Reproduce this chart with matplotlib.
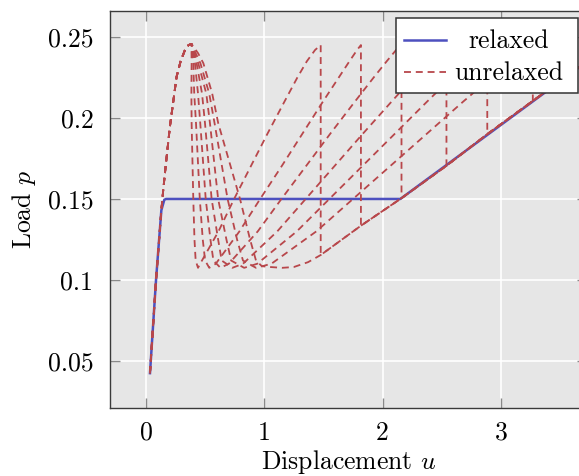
import matplotlib.pyplot as plt
from matplotlib.lines import Line2D

plt.rcParams["font.family"] = "serif"
plt.rcParams["font.serif"] = ["cmr10"]
plt.rcParams["mathtext.fontset"] = "cm"
plt.rcParams["axes.formatter.use_mathtext"] = True
plt.rcParams["lines.scale_dashes"] = False

# ---- data ----
# relaxed (Maxwell) path
RELAX_U = [0.034, 0.085, 0.13, 0.155, 0.17, 2.15, 3.75]
RELAX_P = [0.0425, 0.100, 0.143, 0.1495, 0.150, 0.150, 0.236]

# common loading branch up to the peak
RISE_U = [0.034, 0.085, 0.13, 0.146, 0.169, 0.203, 0.225, 0.259, 0.293, 0.33, 0.36, 0.385]
RISE_P = [0.0425, 0.100, 0.143, 0.1556, 0.172, 0.195, 0.207, 0.2255, 0.235, 0.242, 0.245, 0.2457]

# descending branches after the peak (one list per unrelaxed curve)
DESC_P = [0.240, 0.2338, 0.215, 0.1967, 0.150, 0.125, 0.112, 0.1075]
DESC_U = [
    [0.385, 0.386, 0.384, 0.386, 0.400, 0.410, 0.420, 0.440],
    [0.390, 0.400, 0.408, 0.423, 0.455, 0.480, 0.500, 0.535],
    [0.400, 0.414, 0.440, 0.459, 0.505, 0.545, 0.570, 0.630],
    [0.405, 0.428, 0.474, 0.499, 0.555, 0.610, 0.640, 0.730],
    [0.410, 0.442, 0.510, 0.541, 0.610, 0.680, 0.720, 0.830],
    [0.420, 0.460, 0.535, 0.580, 0.690, 0.770, 0.820, 0.930],
]

# re-loading branches up to the second snap (last point = snap position)
DIAG_P = [0.110, 0.130, 0.150, 0.170, 0.190, 0.210, 0.225, 0.235, 0.242, 0.245]
DIAG_U = [
    [0.458, 0.613, 0.745, 0.885, 1.025, 1.170, 1.280, 1.360, 1.430, 1.477],
    [0.590, 0.790, 0.965, 1.145, 1.320, 1.495, 1.630, 1.720, 1.785, 1.817],
    [0.700, 0.945, 1.145, 1.350, 1.555, 1.765, 1.925, 2.035, 2.115, 2.160],
    [0.820, 1.110, 1.350, 1.590, 1.830, 2.075, 2.260, 2.390, 2.490, 2.540],
    [0.940, 1.275, 1.550, 1.825, 2.100, 2.375, 2.585, 2.730, 2.835, 2.885],
    [1.060, 1.440, 1.750, 2.060, 2.370, 2.680, 2.920, 3.080, 3.200, 3.270],
]

# single-element softening curve
SINGLE_DESC_U = [0.440, 0.485, 0.560, 0.611, 0.795, 0.880, 0.930, 0.980]
SINGLE_DESC_P = [0.240, 0.2338, 0.215, 0.1967, 0.150, 0.125, 0.112, 0.1085]

# fully transformed branch
B_U = [1.05, 1.15, 1.25, 1.37, 1.477, 1.817, 2.15, 2.16, 2.54, 2.885, 3.27, 3.75]
B_P = [0.108, 0.1075, 0.108, 0.111, 0.1154, 0.1335, 0.150, 0.1505, 0.1705, 0.190, 0.2105, 0.236]

XTICKS = [0, 1, 2, 3]
XTICK_LABELS = ["0", "1", "2", "3"]
YTICKS = [0.05, 0.10, 0.15, 0.20, 0.25]
YTICK_LABELS = ["0.05", "0.1", "0.15", "0.2", "0.25"]

BLUE = "#4d50bf"
RED = "#b8474b"
W, H = 579, 476
FS = 18.5

fig = plt.figure(figsize=(W / 100, H / 100), dpi=100)
ax = fig.add_axes([110 / W, 1 - 408.3 / H, 477 / W, 397.6 / H])
ax.set_facecolor("#e6e6e6")
ax.grid(True, color="white", linewidth=1.2)
ax.set_axisbelow(True)

ax.plot(RELAX_U, RELAX_P, color=BLUE, linewidth=1.8)

dash = (0, (5, 3.5))
for du, gu in zip(DESC_U, DIAG_U):
    top = gu[-1]
    tail = [(bu, bp) for bu, bp in zip(B_U, B_P) if bu >= top]
    u = RISE_U + du + gu + [t[0] for t in tail]
    p = RISE_P + DESC_P + DIAG_P + [t[1] for t in tail]
    ax.plot(u, p, color=RED, linewidth=1.3, linestyle=dash)

ax.plot(RISE_U + SINGLE_DESC_U + B_U, RISE_P + SINGLE_DESC_P + B_P,
        color=RED, linewidth=1.3, linestyle=dash)

ax.set_xlim(-0.304, 3.728)
ax.set_ylim(0.0208, 0.2662)
ax.set_xticks(XTICKS)
ax.set_xticklabels(XTICK_LABELS)
ax.set_yticks(YTICKS)
ax.set_yticklabels(YTICK_LABELS)
ax.tick_params(direction="in", length=7, width=1, color="#8a8a8a",
               top=True, right=True, labelsize=FS)
ax.tick_params(axis="x", pad=9)
ax.tick_params(axis="y", pad=12)
for s in ax.spines.values():
    s.set_color("#3a3a3a")
    s.set_linewidth(1.0)

ax.set_xlabel("Displacement $u$", fontsize=FS)
ax.set_ylabel("Load $p$", fontsize=FS)
ax.xaxis.set_label_coords(0.5, -0.1)
ax.yaxis.set_label_coords(-0.15, 0.5)
ax.xaxis.label.set_va("top")


# ---- legend drawn by hand (centred entries like pgfplots) ----
def fx(px):
    return px / W


def fy(py):
    return 1 - py / H


fig.add_artist(plt.Rectangle((fx(395.7), fy(93.3)), (578 - 395.7) / W, (93.3 - 18) / H,
                             transform=fig.transFigure, facecolor="white",
                             edgecolor="#333333", linewidth=1.1, zorder=5))
fig.add_artist(Line2D([fx(404), fx(446)], [fy(40), fy(40)], transform=fig.transFigure,
                      color=BLUE, linewidth=1.8, zorder=6))
fig.add_artist(Line2D([fx(404), fx(446)], [fy(72.3), fy(72.3)], transform=fig.transFigure,
                      color=RED, linewidth=1.3, linestyle=dash, zorder=6))
fig.text(fx(509), fy(47.5), "relaxed", ha="center", va="baseline", fontsize=FS, zorder=7)
fig.text(fx(509), fy(80), "unrelaxed", ha="center", va="baseline", fontsize=FS, zorder=7)

fig.savefig("out.png", dpi=100)
